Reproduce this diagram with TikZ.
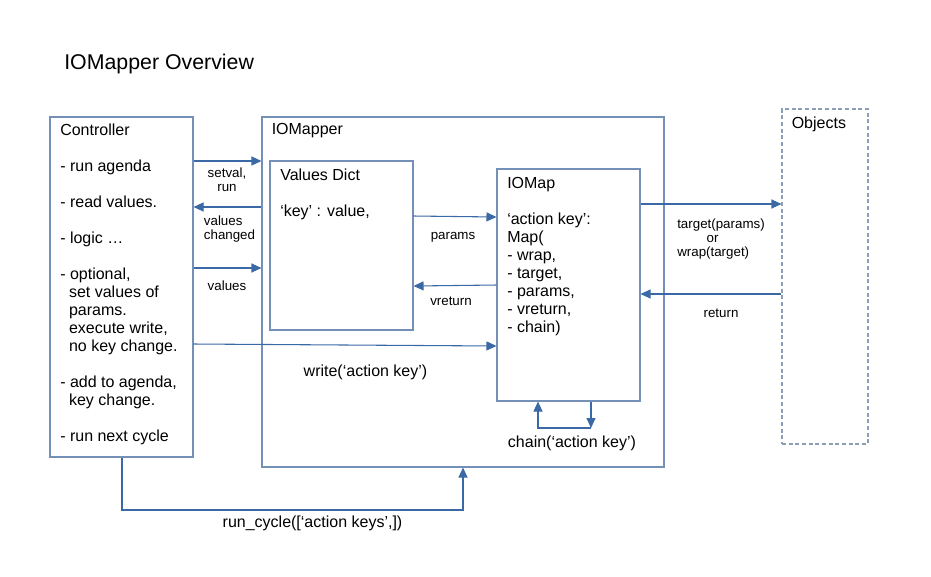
\documentclass[tikz,border=0pt]{standalone}
\usepackage{fontspec}
\setmainfont{Liberation Sans}
\usetikzlibrary{arrows.meta,fit}
\definecolor{boxc}{HTML}{7490B8}
\definecolor{arrc}{HTML}{3A69A6}
\definecolor{objc}{HTML}{8C9DB8}
\begin{document}
\begin{tikzpicture}[x=0.75pt,y=-0.75pt,
  box/.style={draw=boxc, line width=0.8pt, inner sep=0pt},
  dbox/.style={draw=objc, dash pattern=on 3pt off 2pt, line width=0.8pt, inner sep=0pt},
  arr/.style={draw=arrc, line width=0.8pt, -{Triangle[length=7.5pt,width=6.75pt]}},
  big/.style={font=\fontsize{12}{13.5}\selectfont, inner sep=0pt, align=left},
  small/.style={font=\fontsize{10}{10.5}\selectfont, inner sep=0pt, align=center}]
\useasboundingbox (0,0) rectangle (931,576);

% boxes
\node[box, fit={(50,117) (193,457)}] (ctrl) {};
\node[box, fit={(262,117) (664,467)}] (mapper) {};
\node[box, fit={(270,161) (413,330)}] (vd) {};
\node[box, fit={(497,169) (640,401)}] (iomap) {};
\node[dbox, fit={(782,109) (868,444)}] (obj) {};

% texts
\node[big, anchor=north west] (title) at (64,54) {\fontsize{16}{18}\selectfont IOMapper Overview};
\node[big, anchor=north west] (ctrltxt) at (60,123.5) {Controller\\[13.5pt]- run agenda\\[13.5pt]- read values.\\[13.5pt]- logic …\\[13.5pt]- optional,\\\hspace*{0.55em}set values of\\\hspace*{0.55em}params.\\\hspace*{0.55em}execute write,\\\hspace*{0.55em}no key change.\\[13.5pt]- add to agenda,\\\hspace*{0.55em}key change.\\[13.5pt]- run next cycle};
\node[big, anchor=north west] (mappertxt) at (271.5,123.5) {IOMapper};
\node[big, anchor=north west] (vdtxt) at (280,168.5) {Values Dict\\[13.5pt]‘key’ : value,};
\node[big, anchor=north west] (iomaptxt) at (507,177.5) {IOMap\\[13.5pt]‘action key’:\\Map(\\- wrap,\\- target,\\- params,\\- vreturn,\\- chain)};
\node[big, anchor=north west] (objtxt) at (791.5,116.5) {Objects};

% connectors
\draw[arr] (ctrl.east |- 0,161) -- (mapper.west |- 0,161);
\draw[arr] (mapper.west |- 0,207) -- (ctrl.east |- 0,207);
\draw[arr] (ctrl.east |- 0,268) -- (mapper.west |- 0,268);
\draw[arr] (ctrl.east |- 0,344) -- (iomap.west |- 0,346);
\draw[arr] (vd.east |- 0,216) -- (iomap.west |- 0,217);
\draw[arr] (iomap.west |- 0,285) -- (vd.east |- 0,286);
\draw[arr] (iomap.east |- 0,204) -- (obj.west |- 0,204);
\draw[arr] (obj.west |- 0,294) -- (iomap.east |- 0,294);
\coordinate (c1) at (591,428);
\coordinate (c2) at (538,428);
\draw[arr] (iomap.south -| c1) -- (c1);
\draw[arr] (c1) -- (c2) -- (iomap.south -| c2);
\coordinate (r1) at (122,510);
\coordinate (r2) at (463,510);
\draw[arr] (ctrl.south -| r1) -- (r1) -- (r2) -- (mapper.south -| r2);

% labels
\node[small] (l1) at (227,180) {setval,\\run};
\node[small, align=left] (l2) at (229.5,229) {values\\changed};
\node[small] (l3) at (227,285.5) {values};
\node[small] (l4) at (453,237.5) {params};
\node[small] (l5) at (451,301.5) {vreturn};
\node[small, align=left] (l6) at (721,239.5) {target(params)\\\hspace*{2.2em}or\\wrap(target)};
\node[small] (l7) at (721,313.5) {return};
\node[big] (l8) at (365.5,372.5) {write(‘action key’)};
\node[big] (l9) at (572,443.5) {chain(‘action key’)};
\node[big] (l10) at (312.5,523.5) {run\_cycle([‘action keys’,])};
\end{tikzpicture}
\end{document}
